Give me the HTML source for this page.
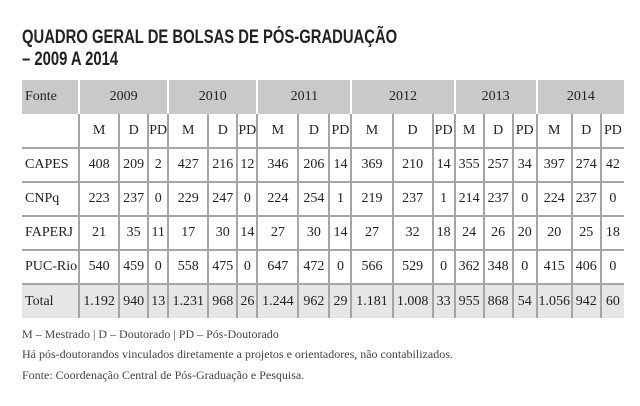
<!DOCTYPE html>
<html><head><meta charset="utf-8"><style>
body{margin:0;width:640px;height:406px;background:#fff;position:relative;overflow:hidden;font-family:"Liberation Serif",serif;color:#333}
.t{position:absolute;left:22px;font-family:"Liberation Sans",sans-serif;font-weight:bold;font-size:19px;color:#222;transform-origin:0 0;transform:scaleX(0.78);white-space:nowrap;line-height:22px}
table{position:absolute;left:22px;top:80px;border-collapse:collapse;table-layout:fixed;width:602px;font-size:14px}
td{height:34px;padding:0;text-align:center;border-left:2px solid #a5a5a5;border-top:2px solid #a5a5a5;color:#222;box-sizing:border-box;line-height:14px}
tr.h td{background:#c9c9c9;border-left:2px solid #fff;border-top:none;height:34px}
td:first-child{border-left:none!important;text-align:left;padding-left:3px}
tr.tot td{background:#e6e6e6}
.f{position:absolute;left:22px;font-size:12px;color:#444;white-space:nowrap}
</style></head><body>
<div class="t" style="top:27px">QUADRO GERAL DE BOLSAS DE PÓS-GRADUAÇÃO</div>
<div class="t" style="top:49px">– 2009 A 2014</div>
<table>
<colgroup><col style="width:57px"><col style="width:40px"><col style="width:29px"><col style="width:20px"><col style="width:40px"><col style="width:29px"><col style="width:20px"><col style="width:41px"><col style="width:31px"><col style="width:22px"><col style="width:41px"><col style="width:40px"><col style="width:22px"><col style="width:29px"><col style="width:29px"><col style="width:24px"><col style="width:35px"><col style="width:29px"><col style="width:23px"></colgroup>
<tr class="h"><td>Fonte</td><td colspan="3">2009</td><td colspan="3">2010</td><td colspan="3">2011</td><td colspan="3">2012</td><td colspan="3">2013</td><td colspan="3">2014</td></tr>
<tr><td style="border-top:none"></td><td style="border-top:none">M</td><td style="border-top:none">D</td><td style="border-top:none">PD</td><td style="border-top:none">M</td><td style="border-top:none">D</td><td style="border-top:none">PD</td><td style="border-top:none">M</td><td style="border-top:none">D</td><td style="border-top:none">PD</td><td style="border-top:none">M</td><td style="border-top:none">D</td><td style="border-top:none">PD</td><td style="border-top:none">M</td><td style="border-top:none">D</td><td style="border-top:none">PD</td><td style="border-top:none">M</td><td style="border-top:none">D</td><td style="border-top:none">PD</td></tr>
<tr><td>CAPES</td><td>408</td><td>209</td><td>2</td><td>427</td><td>216</td><td>12</td><td>346</td><td>206</td><td>14</td><td>369</td><td>210</td><td>14</td><td>355</td><td>257</td><td>34</td><td>397</td><td>274</td><td>42</td></tr>
<tr><td>CNPq</td><td>223</td><td>237</td><td>0</td><td>229</td><td>247</td><td>0</td><td>224</td><td>254</td><td>1</td><td>219</td><td>237</td><td>1</td><td>214</td><td>237</td><td>0</td><td>224</td><td>237</td><td>0</td></tr>
<tr><td>FAPERJ</td><td>21</td><td>35</td><td>11</td><td>17</td><td>30</td><td>14</td><td>27</td><td>30</td><td>14</td><td>27</td><td>32</td><td>18</td><td>24</td><td>26</td><td>20</td><td>20</td><td>25</td><td>18</td></tr>
<tr><td>PUC-Rio</td><td>540</td><td>459</td><td>0</td><td>558</td><td>475</td><td>0</td><td>647</td><td>472</td><td>0</td><td>566</td><td>529</td><td>0</td><td>362</td><td>348</td><td>0</td><td>415</td><td>406</td><td>0</td></tr>
<tr class="tot"><td>Total</td><td>1.192</td><td>940</td><td>13</td><td>1.231</td><td>968</td><td>26</td><td>1.244</td><td>962</td><td>29</td><td>1.181</td><td>1.008</td><td>33</td><td>955</td><td>868</td><td>54</td><td>1.056</td><td>942</td><td>60</td></tr>
</table>
<div class="f" style="top:327px">M – Mestrado | D – Doutorado | PD – Pós-Doutorado</div>
<div class="f" style="top:347px">Há pós-doutorandos vinculados diretamente a projetos e orientadores, não contabilizados.</div>
<div class="f" style="top:368px">Fonte: Coordenação Central de Pós-Graduação e Pesquisa.</div>
</body></html>
